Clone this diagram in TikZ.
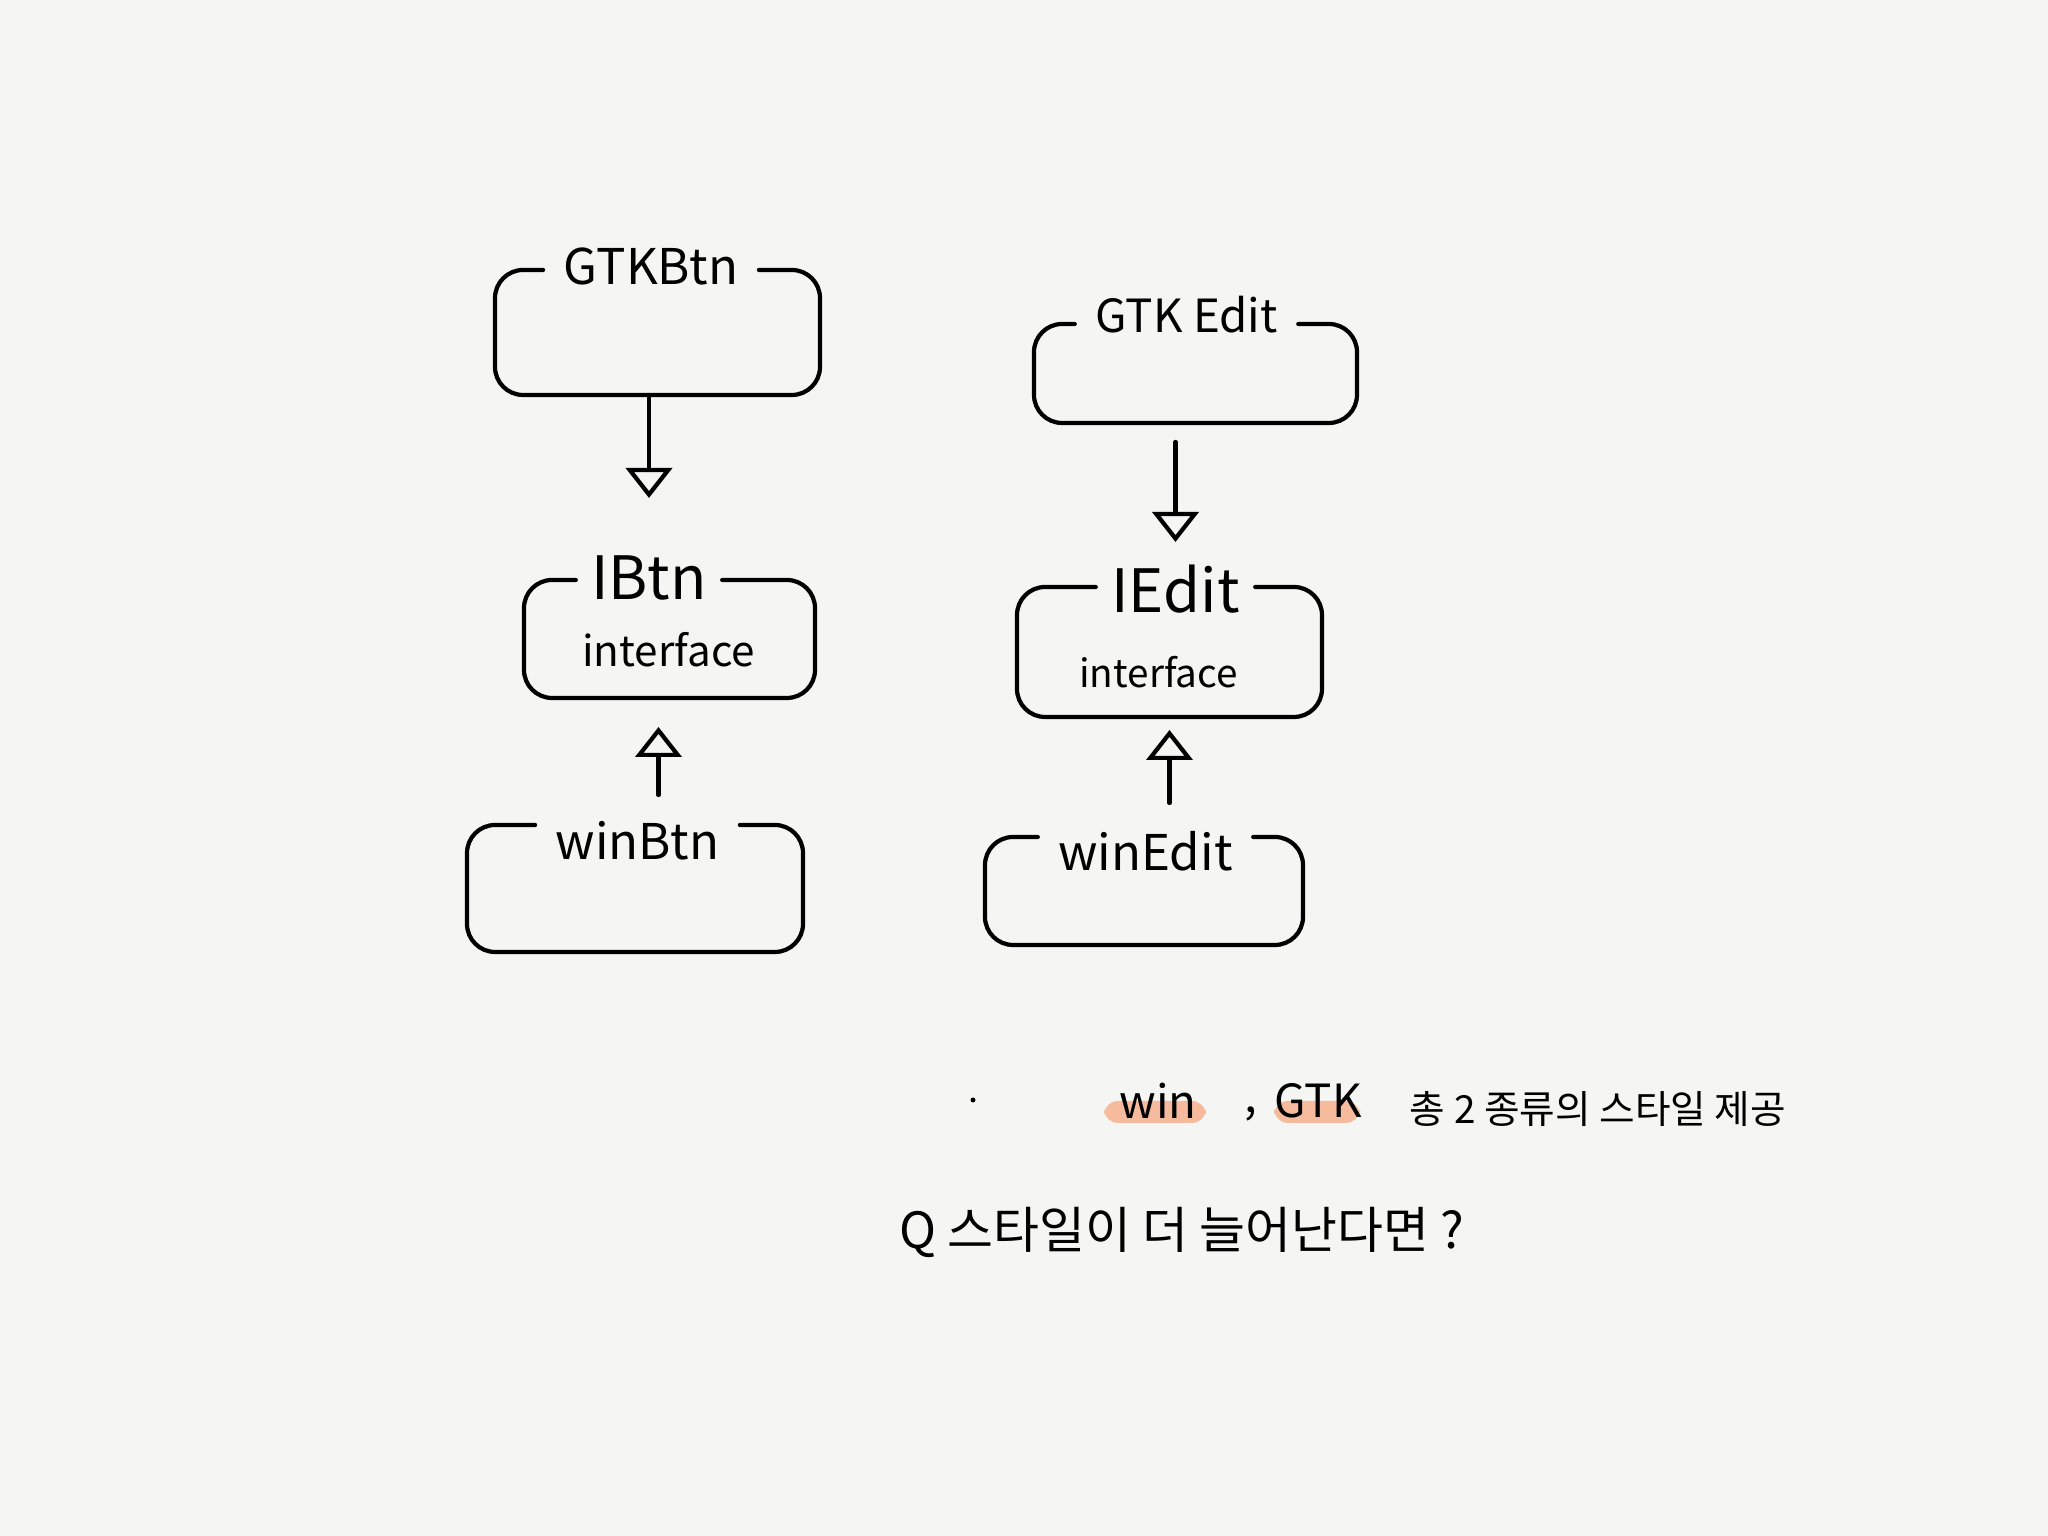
\documentclass[tikz,border=0pt]{standalone}
\usepackage{fontspec}
\newfontfamily\krfont{Noto Sans CJK KR}
\usepackage{xcolor}
\usetikzlibrary{arrows.meta}
\definecolor{paper}{RGB}{245,245,244}
\definecolor{marker}{RGB}{247,168,128}
\tikzset{
  every picture/.style={line join=round, line cap=round, >=Stealth},
  every node/.style={font=\krfont},
  frame/.style={inner sep=0pt, outer sep=0pt},
  boxline/.style={line width=1.2pt, rounded corners=8pt},
  inherit/.style={line width=1.2pt, -{Triangle[open,length=0.3cm,width=0.46cm]}},
  title/.style={font=\krfont\fontsize{14}{16}\selectfont, inner xsep=0.2cm},
  bigtitle/.style={font=\krfont\fontsize{17}{19}\selectfont, inner xsep=0.15cm},
  note/.style={font=\krfont\fontsize{#1}{#1}\selectfont, inner sep=0pt},
}

\begin{document}
\begin{tikzpicture}
\fill[paper](0,0) rectangle (20.48,15.36);
% boxes
\node[frame, minimum width=3.25cm, minimum height=1.25cm](gtkbtn) at (6.575,12.035){};
\node[frame, minimum width=2.91cm, minimum height=1.18cm](ibtn) at (6.695,8.97){};
\node[frame, minimum width=3.36cm, minimum height=1.27cm](winbtn) at (6.35,6.475){};
\node[frame, minimum width=3.23cm, minimum height=0.99cm](gtkedit) at (11.955,11.625){};
\node[frame, minimum width=3.05cm, minimum height=1.30cm](iedit) at (11.695,8.84){};
\node[frame, minimum width=3.18cm, minimum height=1.08cm](winedit) at (11.44,6.45){};
% titles
\node[title](gtkbtn-t) at (6.51,12.70){GTKBtn};
\node[bigtitle](ibtn-t) at (6.49,9.58){IBtn};
\node[title](winbtn-t) at (6.375,6.95){winBtn};
\node[title, font=\krfont\fontsize{13}{15}\selectfont](gtkedit-t) at (11.865,12.21){GTK Edit};
\node[bigtitle](iedit-t) at (11.755,9.47){IEdit};
\node[title](winedit-t) at (11.455,6.85){winEdit};
\node[note=12](ibtn-i) at (6.685,8.86){interface};
\node[note=11](iedit-i) at (11.585,8.64){interface};
\foreach \b in {gtkbtn,ibtn,winbtn,gtkedit,iedit,winedit}
  \draw[boxline](\b-t.west |- \b.north) -- (\b.north west) -- (\b.south west)
    -- (\b.south east) -- (\b.north east) -- (\b-t.east |- \b.north);
% arrows
\coordinate(ibtn-in) at ([xshift=-1.1mm]ibtn.south);
\draw[inherit, shorten >=0.80cm](gtkbtn.south -| ibtn-t) -- (ibtn-t.center);
\draw[inherit, shorten <=0.19cm, shorten >=0.47cm](gtkedit.south -| iedit-t) -- (iedit-t.center);
\draw[inherit, shorten <=0.46cm, shorten >=0.29cm](ibtn-in |- winbtn-t) -- (ibtn-in);
\draw[inherit, shorten <=0.48cm, shorten >=0.13cm](iedit.south |- winedit-t) -- (iedit.south);
% notes
\fill[marker, opacity=0.75, rounded corners=4pt](11.04,4.13) rectangle (12.06,4.35);
\fill[marker, opacity=0.75, rounded corners=4pt](12.74,4.13) rectangle (13.60,4.35);
\fill(9.73,4.36) circle (0.025);
\node[note=13](win) at (11.58,4.35){win};
\node[note=13](comma) at (12.51,4.22){,};
\node[note=13](gtk) at (13.18,4.35){GTK};
\node[note=11](kinds) at (15.98,4.27){총 2 종류의 스타일 제공};
\node[note=14.2](question) at (11.82,3.04){Q 스타일이 더 늘어난다면 ?};
\end{tikzpicture}
\end{document}
